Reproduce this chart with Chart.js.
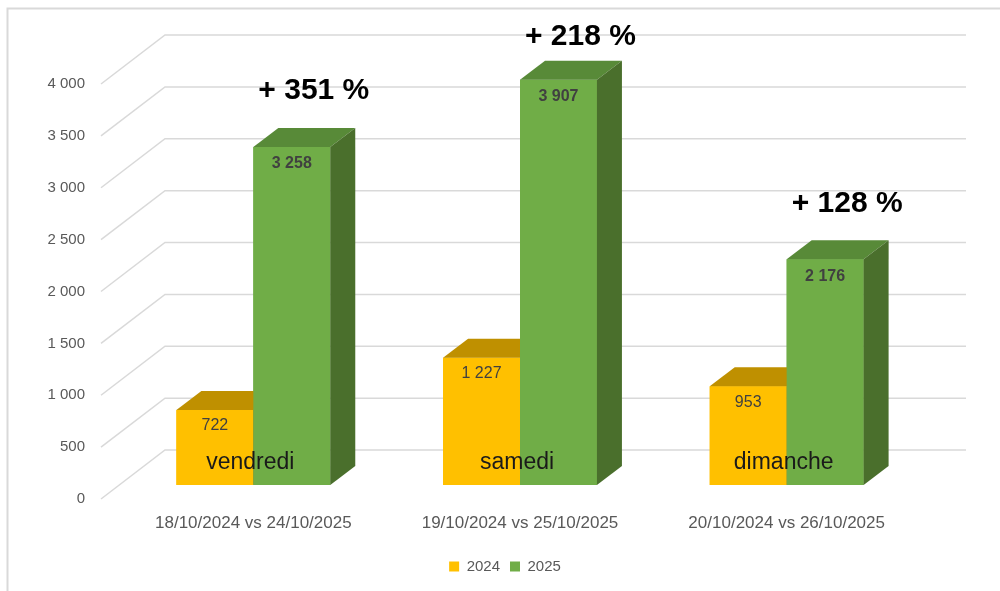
<!DOCTYPE html>
<html lang="fr">
  <head>
    <meta charset="UTF-8" />
    <title>Comparaison 2024 / 2025</title>
    <script src="https://cdn.jsdelivr.net/npm/chart.js"></script>
    <style>
      body { margin: 0; background: #fff; }
    </style>
  </head>
  <body>
    <canvas id="weekendChart" width="1000" height="591"></canvas>
    <script>
      const categories = ["18/10/2024 vs 24/10/2025", "19/10/2024 vs 25/10/2025", "20/10/2024 vs 26/10/2025"];
      const days = ["vendredi", "samedi", "dimanche"];
      const values2024 = [722, 1227, 953];
      const values2025 = [3258, 3907, 2176];
      const growth = ["+ 351 %", "+ 218 %", "+ 128 %"];
      const yTicks = [0, 500, 1000, 1500, 2000, 2500, 3000, 3500, 4000];

      const FONT = "'Liberation Sans', Arial, sans-serif";
      const DX = 25, DY = -19; // depth of the bars

      function fmt(v) {
        return String(v).replace(/\B(?=(\d{3})+(?!\d))/g, " ");
      }

      // fake 3d: back wall grid, bar tops/sides, labels
      const threeD = {
        id: "threeD",
        beforeDraw(chart) {
          const ctx = chart.ctx;
          ctx.save();
          ctx.fillStyle = "#fff";
          ctx.fillRect(0, 0, chart.width, chart.height);
          ctx.strokeStyle = "#D9D9D9";
          ctx.lineWidth = 2;
          ctx.beginPath();
          ctx.moveTo(7.5, chart.height);
          ctx.lineTo(7.5, 8.5);
          ctx.lineTo(chart.width, 8.5);
          ctx.stroke();
          ctx.restore();
        },
        beforeDatasetsDraw(chart) {
          const { ctx, chartArea } = chart;
          const y = chart.scales.y;
          ctx.save();
          ctx.strokeStyle = "#D9D9D9";
          ctx.lineWidth = 1.5;
          yTicks.forEach((v) => {
            const py = y.getPixelForValue(v);
            ctx.beginPath();
            ctx.moveTo(chartArea.left - 19, py + 14);
            ctx.lineTo(chartArea.left + 45, py - 35);
            ctx.lineTo(chartArea.right + 46, py - 35);
            ctx.stroke();
          });
          ctx.restore();
        },
        afterDatasetsDraw(chart) {
          const { ctx, chartArea } = chart;
          ctx.save();
          // repaint fronts left to right, each followed by its top and side
          [0, 1].forEach((di) => {
            const ds = chart.data.datasets[di];
            chart.getDatasetMeta(di).data.forEach((bar) => {
              bar.draw(ctx);
              const { x, y, base, width } = bar.getProps(["x", "y", "base", "width"], true);
              const l = x - width / 2, r = x + width / 2;
              ctx.fillStyle = ds.topColor;
              ctx.beginPath();
              ctx.moveTo(l, y);
              ctx.lineTo(l + DX, y + DY);
              ctx.lineTo(r + DX, y + DY);
              ctx.lineTo(r, y);
              ctx.closePath();
              ctx.fill();
              ctx.fillStyle = ds.sideColor;
              ctx.beginPath();
              ctx.moveTo(r, y);
              ctx.lineTo(r + DX, y + DY);
              ctx.lineTo(r + DX, base + DY);
              ctx.lineTo(r, base);
              ctx.closePath();
              ctx.fill();
            });
          });

          ctx.textAlign = "center";
          ctx.textBaseline = "middle";
          chart.getDatasetMeta(0).data.forEach((bar, i) => {
            ctx.font = "16px " + FONT;
            ctx.fillStyle = "#404040";
            ctx.fillText(fmt(values2024[i]), bar.x, bar.y + 16);
          });
          chart.getDatasetMeta(1).data.forEach((bar, i) => {
            ctx.font = "bold 16px " + FONT;
            ctx.fillStyle = "#404040";
            ctx.fillText(fmt(values2025[i]), bar.x, bar.y + 17);
            ctx.font = "bold 30px " + FONT;
            ctx.fillStyle = "#000";
            ctx.fillText(growth[i], bar.x + 22, Math.max(bar.y - 56, chartArea.top - 33));
          });
          ctx.font = "23px " + FONT;
          ctx.fillStyle = "#1a1a1a";
          days.forEach((d, i) => {
            ctx.fillText(d, chart.scales.x.getPixelForValue(i) - 3, chartArea.bottom - 22);
          });
          ctx.restore();
        },
      };

      new Chart(document.getElementById("weekendChart"), {
        type: "bar",
        data: {
          labels: categories,
          datasets: [
            {
              label: "2024",
              data: values2024,
              backgroundColor: "#FFC000",
              topColor: "#BF9000",
              sideColor: "#A67C00",
            },
            {
              label: "2025",
              data: values2025,
              backgroundColor: "#70AD47",
              topColor: "#588A38",
              sideColor: "#4A6F2C",
            },
          ],
        },
        options: {
          responsive: false,
          animation: false,
          layout: { padding: { top: 70, left: 10, right: 0, bottom: 7 } },
          datasets: {
            bar: { barPercentage: 1, categoryPercentage: 0.577, borderWidth: 0 },
          },
          scales: {
            x: {
              grid: { display: false, drawTicks: false },
              border: { display: false },
              ticks: { color: "#595959", font: { family: FONT, size: 17 }, padding: 28 },
              afterFit(scale) { scale.height = 64; },
            },
            y: {
              min: 0,
              max: 4000,
              grid: { display: false, drawTicks: false },
              border: { display: false },
              afterFit(scale) { scale.width = 110; },
              ticks: {
                stepSize: 500,
                padding: 35,
                labelOffset: 14,
                color: "#595959",
                font: { family: FONT, size: 15 },
                callback: (v) => fmt(v),
              },
            },
            // empty right margin so the legend centres like the original
            yRight: {
              position: "right",
              grid: { display: false, drawTicks: false },
              border: { display: false },
              ticks: { display: false },
              afterFit(scale) { scale.width = 80; },
            },
          },
          plugins: {
            legend: {
              position: "bottom",
              labels: {
                boxWidth: 10,
                boxHeight: 10,
                color: "#595959",
                font: { family: FONT, size: 15 },
              },
            },
            tooltip: { enabled: false },
          },
        },
        plugins: [threeD],
      });
    </script>
  </body>
</html>
